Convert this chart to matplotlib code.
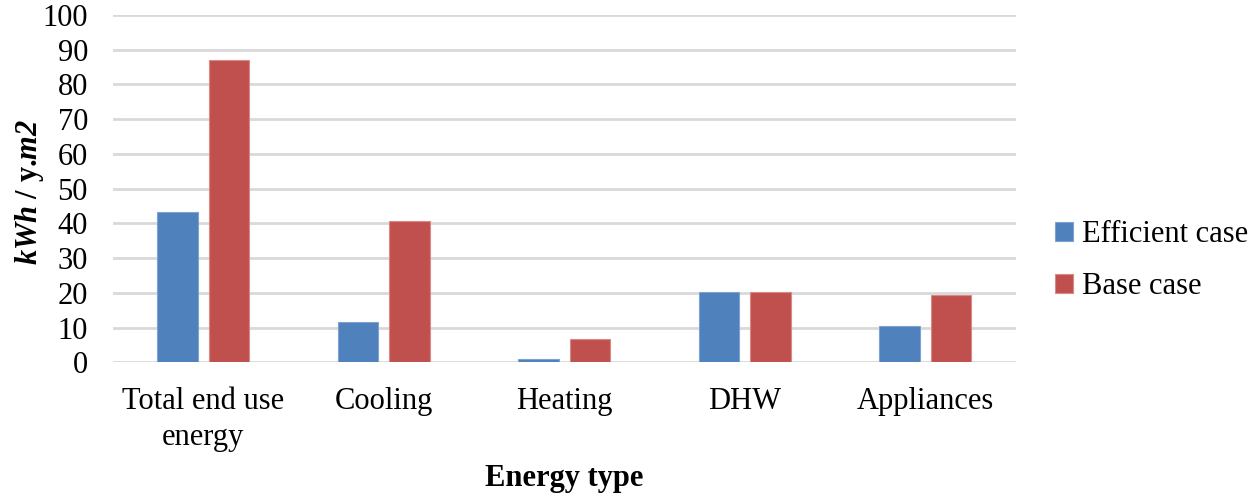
import matplotlib.pyplot as plt
import numpy as np

plt.rcParams['font.family'] = ['Liberation Serif', 'DejaVu Serif']
plt.rcParams['mathtext.fontset'] = 'custom'
plt.rcParams['mathtext.rm'] = 'Liberation Serif:bold'
plt.rcParams['mathtext.bf'] = 'Liberation Serif:bold'
plt.rcParams['mathtext.bfit'] = 'Liberation Serif:italic:bold'

categories = ["Total end use\nenergy", "Cooling", "Heating", "DHW", "Appliances"]
efficient = [43.2, 11.5, 0.9, 20.1, 10.6]
base = [87.1, 40.7, 6.6, 20.1, 19.5]
series_names = ["Efficient case", "Base case"]

blue = "#4f81bd"
red = "#c0504d"

fig = plt.figure(figsize=(12.5, 4.95), dpi=100)
ax = fig.add_axes([0.0904, 0.268, 0.722, 0.702])

x = np.arange(len(categories))
w = 0.225
off = 0.142
ax.bar(x - off, efficient, w, color=blue, edgecolor="#7ea3d3", linewidth=0.8,
       label=series_names[0], zorder=3)
ax.bar(x + off, base, w, color=red, edgecolor="#d88a88", linewidth=0.8,
       label=series_names[1], zorder=3)

ax.set_xlim(-0.5, len(categories) - 0.5)
ax.set_ylim(0, 100)
ax.set_yticks(np.arange(0, 101, 10))
ax.yaxis.grid(True, color="#d9d9d9", linewidth=2, zorder=0)
ax.set_axisbelow(True)
for s in ax.spines.values():
    s.set_visible(False)
ax.tick_params(axis="both", length=0, labelsize=22)
ax.tick_params(axis="y", pad=18)
ax.tick_params(axis="x", pad=18)
ax.set_xticks(x)
ax.set_xticklabels(categories, linespacing=1.3)

fig.text(0.024, 0.612, r"$\mathbfit{kWh}$ / y.$\mathbfit{m2}$", fontsize=22,
         fontweight="bold", rotation=90, ha="center", va="center")
fig.text(0.451, 0.034, "Energy type", fontsize=22, fontweight="bold",
         ha="center", va="center")

leg = fig.legend(loc="center left", bbox_to_anchor=(0.844, 0.473), frameon=False,
                 fontsize=22, handlelength=0.6, handleheight=0.6,
                 handletextpad=0.3, labelspacing=0.75, borderaxespad=0,
                 borderpad=0)

fig.savefig("out.png", dpi=100)
